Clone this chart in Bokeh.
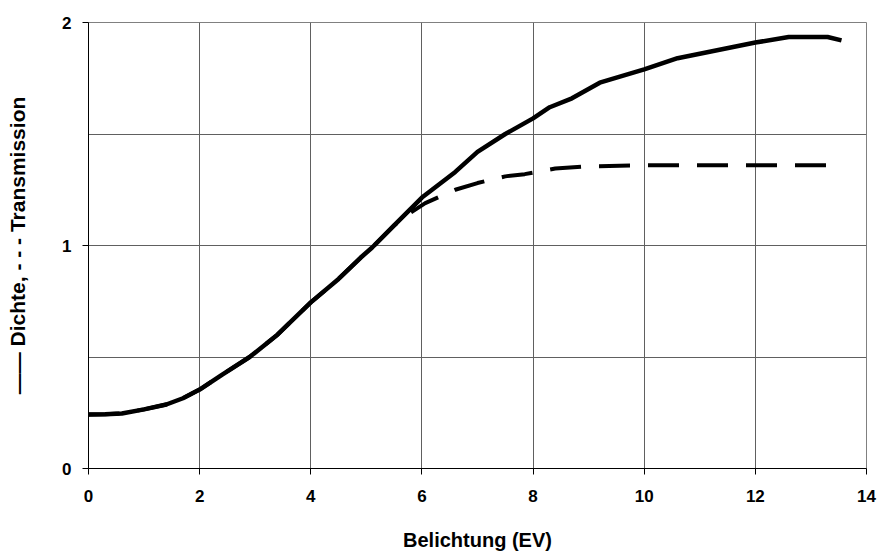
from bokeh.plotting import figure
from bokeh.models import Range1d, FixedTicker
from bokeh.embed import file_html
from bokeh.resources import INLINE

# Dichte (density) curve
ev_d = [0.0, 0.3, 0.6, 1.0, 1.4, 1.7, 2.0, 2.4, 2.9, 3.4, 4.0, 4.5, 4.9, 5.1,
        5.5, 6.0, 6.6, 7.0, 7.5, 8.0, 8.3, 8.7, 9.2, 10.0, 10.6, 11.2, 12.0,
        12.6, 13.3, 13.55]
dichte = [0.242, 0.243, 0.247, 0.265, 0.287, 0.315, 0.354, 0.42, 0.50, 0.60,
          0.745, 0.85, 0.946, 0.99, 1.09, 1.215, 1.33, 1.42, 1.50, 1.57, 1.62,
          1.66, 1.73, 1.79, 1.84, 1.87, 1.91, 1.935, 1.935, 1.92]

# Transmission curve
ev_t = [0.0, 0.3, 0.6, 1.0, 1.4, 1.7, 2.0, 2.4, 2.9, 3.4, 4.0, 4.5, 4.9, 5.1,
        5.5, 5.75, 6.06, 6.6, 7.0, 7.5, 7.85, 8.4, 9.0, 10.0, 11.0, 12.0, 13.0,
        13.5]
transmission = [0.242, 0.243, 0.247, 0.265, 0.287, 0.315, 0.354, 0.42, 0.50,
                0.60, 0.745, 0.85, 0.946, 0.99, 1.09, 1.14, 1.19, 1.25, 1.28,
                1.31, 1.32, 1.345, 1.355, 1.36, 1.36, 1.36, 1.36, 1.36]

x_ticks = [0, 2, 4, 6, 8, 10, 12, 14]
y_ticks = [0, 1, 2]
y_grid = [0.5, 1.0, 1.5, 2.0]

p = figure(width=877, height=554, output_backend="svg", toolbar_location=None,
           x_range=Range1d(0, 14), y_range=Range1d(0, 2))
p.min_border_left = 88
p.min_border_right = 11
p.min_border_top = 22
p.min_border_bottom = 86
p.outline_line_color = "#808080"
p.outline_line_width = 1
p.background_fill_color = "white"
p.border_fill_color = "white"

p.xaxis.ticker = FixedTicker(ticks=x_ticks)
p.yaxis.ticker = FixedTicker(ticks=y_ticks)
p.xgrid.ticker = FixedTicker(ticks=x_ticks)
p.ygrid.ticker = FixedTicker(ticks=y_grid)
for g in (p.xgrid, p.ygrid):
    g.grid_line_color = "#606060"
    g.grid_line_width = 1

for ax in (p.xaxis, p.yaxis):
    ax.axis_line_color = "black"
    ax.axis_line_width = 1
    ax.major_tick_line_color = "black"
    ax.major_tick_in = 0
    ax.major_tick_out = 6
    ax.minor_tick_line_color = None
    ax.major_label_text_font = "Liberation Sans"
    ax.major_label_text_font_style = "bold"
    ax.major_label_text_font_size = "17px"
    ax.major_label_text_color = "black"
    ax.axis_label_text_font = "Liberation Sans"
    ax.axis_label_text_font_style = "bold"
    ax.axis_label_text_color = "black"

p.xaxis.axis_label_text_font_size = "20px"
p.yaxis.axis_label_text_font_size = "21px"
p.xaxis.major_label_standoff = 15
p.yaxis.major_label_standoff = 11
p.xaxis.axis_label = "Belichtung (EV)"
p.xaxis.axis_label_standoff = 24
p.yaxis.axis_label = "—— Dichte, - - - Transmission"
p.yaxis.axis_label_standoff = 30

p.line(ev_t, transmission, line_color="black", line_width=4,
       line_dash="31 18")
p.line(ev_d, dichte, line_color="black", line_width=4.5)

open("out.html", "w").write(file_html(p, INLINE))
